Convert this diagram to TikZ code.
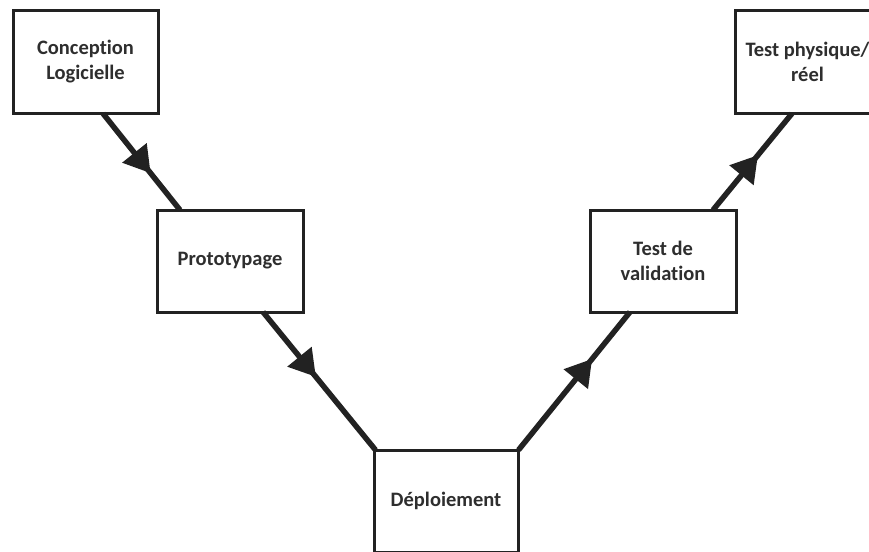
\documentclass[tikz,border=0pt]{standalone}
\usepackage{fontspec}
\setmainfont{Carlito}[Ligatures=NoCommon]
\usetikzlibrary{arrows.meta,decorations.markings}
\definecolor{ink}{HTML}{222222}
\definecolor{txt}{HTML}{2E2E2E}
\tikzset{
  stage/.style={draw=ink, line width=3pt, fill=white, rectangle, inner sep=0pt,
    minimum width=145pt, minimum height=103pt, align=center, text=txt,
    font=\fontsize{20.5}{25}\selectfont\bfseries},
  flow/.style={draw=ink, line width=5.5pt, postaction=decorate,
    decoration={markings, mark=at position #1 with {\arrow{Triangle[length=26pt,width=30pt]}}}}
}
\begin{document}
\begin{tikzpicture}[x=1pt,y=-1pt]
\useasboundingbox (0,0) rectangle (869,551);
\clip (0,0) rectangle (869,551);
\fill[white] (0,0) rectangle (869,551);
\node[stage] (c) at (85.5,62) {Conception\\Logicielle};
\node[stage, minimum width=146pt, minimum height=102pt] (p) at (230,261) {Prototypage};
\node[stage, minimum width=144pt, minimum height=102pt] (d) at (446,501) {Déploiement};
\node[stage, minimum width=146pt, minimum height=102pt] (v) at (663,261) {Test de\\validation};
\node[stage] (r) at (807.5,62) {Test physique/\\réel};
\draw[flow=0.62] ([xshift=17.5pt,yshift=1.5pt]c.south) -- ([xshift=-50pt,yshift=-1.5pt]p.north);
\draw[flow=0.47] ([xshift=33pt,yshift=1.5pt]p.south) -- ([xshift=3pt,yshift=-1.5pt]d.north west);
\draw[flow=0.66] ([xshift=-1pt,yshift=-1.5pt]d.north east) -- ([xshift=-33pt,yshift=1.5pt]v.south);
\draw[flow=0.57] ([xshift=50pt,yshift=-1.5pt]v.north) -- ([xshift=-15.5pt,yshift=1.5pt]r.south);
\end{tikzpicture}
\end{document}
